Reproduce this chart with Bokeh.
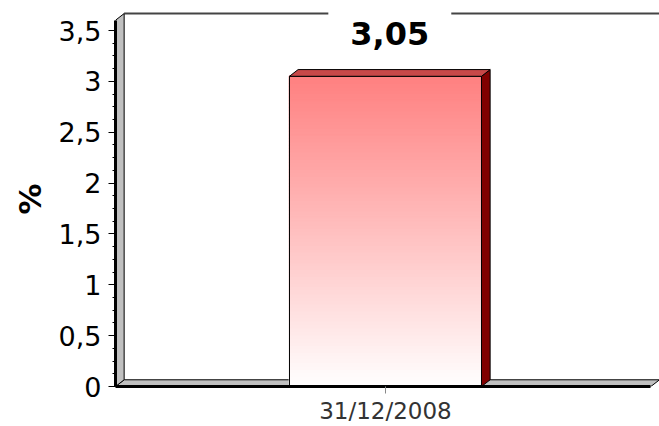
import numpy as np
from bokeh.plotting import figure
from bokeh.models import FixedTicker, SingleIntervalTicker, Label, Range1d
from bokeh.embed import file_html
from bokeh.resources import INLINE

# ---- data ----
categories = ["31/12/2008"]
values = [3.05]
value_labels = ["3,05"]
y_ticks = [0, 0.5, 1, 1.5, 2, 2.5, 3, 3.5]
y_tick_labels = ["0", "0,5", "1", "1,5", "2", "2,5", "3", "3,5"]
y_label = "%"

# ---- layout / style constants ----
XL, XR = -1.406, 1.427
YT = 3.687
WALL_TOP = 3.667
DX, DY = 0.045, 0.066
BW = 1.0
FONT = "DejaVu Sans"

p = figure(width=659, height=426, x_range=Range1d(XL, XR), y_range=Range1d(0, YT),
           output_backend="svg", toolbar_location=None,
           min_border_left=115, min_border_right=0, min_border_top=11, min_border_bottom=40)
p.grid.visible = False
p.outline_line_color = None
p.background_fill_color = "white"
p.border_fill_color = "white"

# back wall top edge
p.segment(x0=[XL + DX], y0=[WALL_TOP], x1=[XR], y1=[WALL_TOP], line_color="#444444", line_width=2)
# floor
p.patch([XL, XL + DX, XR, XR - DX], [0, DY, DY, 0], fill_color="#C0C0C0", line_color="black", line_width=1)
# left wall
p.patch([XL, XL, XL + DX, XL + DX], [0, WALL_TOP - DY, WALL_TOP, DY], fill_color="#C0C0C0",
        line_color="black", line_width=1)

# bars
top_rgb = np.array([255, 128, 128])
bot_rgb = np.array([255, 255, 255])
for i, v in enumerate(values):
    n = 90
    edges = np.linspace(0, v, n + 1)
    fr = (edges[:-1] + edges[1:]) / 2 / v
    cols = []
    for f in fr:
        c = bot_rgb + (top_rgb - bot_rgb) * f
        cols.append("#%02x%02x%02x" % tuple(int(round(t)) for t in c))
    p.quad(left=[i - BW / 2] * n, right=[i + BW / 2] * n, bottom=edges[:-1], top=edges[1:],
           fill_color=cols, line_color=cols, line_width=1.5)
    p.quad(left=[i - BW / 2], right=[i + BW / 2], bottom=[0], top=[v], fill_alpha=0,
           line_color="black", line_width=1)
    # side face
    p.patch([i + BW / 2, i + BW / 2 + DX, i + BW / 2 + DX, i + BW / 2], [0, DY, v + DY, v],
            fill_color="#800000", line_color="black", line_width=1)
    # top face
    p.patch([i - BW / 2, i - BW / 2 + DX, i + BW / 2 + DX, i + BW / 2], [v, v + DY, v + DY, v],
            fill_color="#C84848", line_color="black", line_width=1)
    p.add_layout(Label(x=i + DX / 2, y=v + DY, y_offset=40, text=value_labels[i],
                       text_align="center", text_baseline="alphabetic",
                       text_font=FONT, text_font_size="32px", text_font_style="bold",
                       text_color="black", background_fill_color="white",
                       padding=dict(left=22, right=22, top=14, bottom=6)))

# y axis
ya = p.yaxis[0]
ya.ticker = SingleIntervalTicker(interval=0.5, num_minor_ticks=4)
ya.major_label_overrides = {float(t): l for t, l in zip(y_ticks, y_tick_labels)}
ya.bounds = (0, WALL_TOP - DY)
ya.axis_line_color = "black"
ya.axis_line_width = 3
ya.major_tick_line_color = "black"
ya.major_tick_line_width = 1
ya.major_tick_out = 7
ya.major_tick_in = 0
ya.minor_tick_line_color = "black"
ya.minor_tick_out = 3
ya.minor_tick_in = 0
ya.major_label_standoff = 7
ya.major_label_text_font = FONT
ya.major_label_text_font_size = "27px"
ya.major_label_text_color = "black"
ya.axis_label = y_label
ya.axis_label_text_font = FONT
ya.axis_label_text_font_size = "31px"
ya.axis_label_text_font_style = "bold"
ya.axis_label_text_color = "black"
ya.axis_label_standoff = 8

# x axis
xa = p.xaxis[0]
xa.ticker = FixedTicker(ticks=list(range(len(categories))))
xa.major_label_overrides = {i: c for i, c in enumerate(categories)}
xa.bounds = (XL, XR - DX)
xa.axis_line_color = "black"
xa.axis_line_width = 3
xa.major_tick_line_color = "#888888"
xa.major_tick_out = 7
xa.major_tick_in = 0
xa.minor_tick_line_color = None
xa.major_label_standoff = 4
xa.major_label_text_font = FONT
xa.major_label_text_font_size = "23px"
xa.major_label_text_color = "#333333"

open("out.html", "w").write(file_html(p, INLINE))
